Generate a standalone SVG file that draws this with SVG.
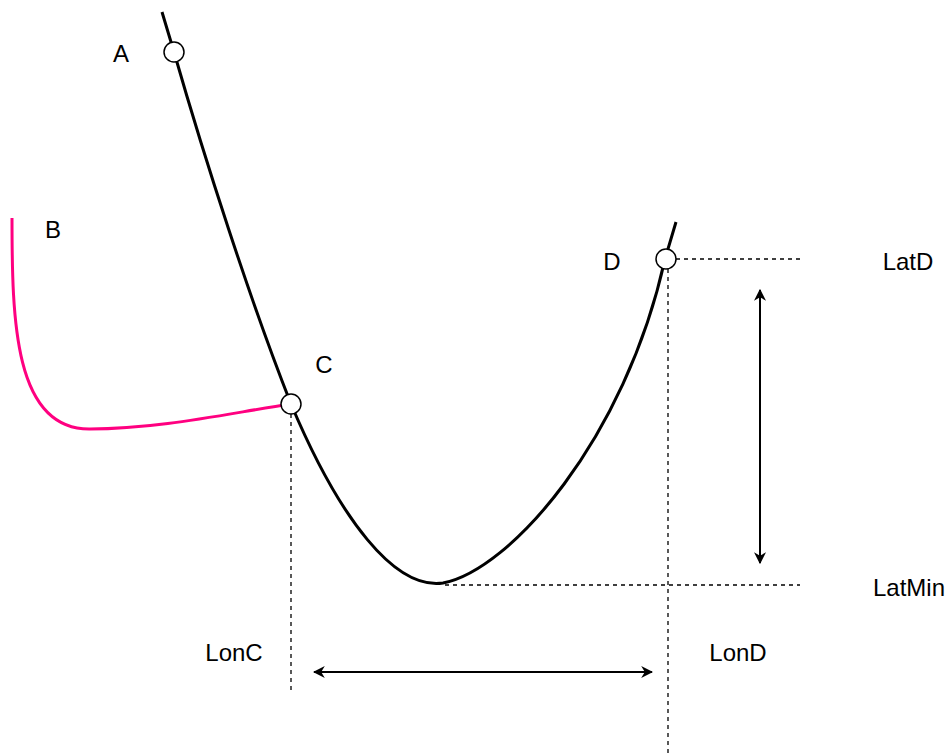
<svg xmlns="http://www.w3.org/2000/svg" width="950" height="756" viewBox="0 0 950 756">
<style>
text{font-family:"Liberation Sans",Arial,sans-serif;font-size:24px;fill:#000;text-anchor:middle;dominant-baseline:central}
.dash{stroke:#000;stroke-width:1.3;stroke-dasharray:4 4;fill:none}
.dim{stroke:#000;stroke-width:2;fill:none;marker-start:url(#ah);marker-end:url(#ah)}
.pt{fill:#fff;stroke:#000;stroke-width:1.5}
</style>
<defs>
<marker id="ah" viewBox="0 0 10 10" refX="9" refY="5" markerWidth="6" markerHeight="6" orient="auto-start-reverse" markerUnits="strokeWidth">
<path d="M0,0 L10,5 L0,10 L3,5 Z" fill="#000"/>
</marker>
</defs>
<rect width="950" height="756" fill="#fff"/>
<g id="connectors">
<path class="dash" d="M291,414 V692"/>
<path class="dash" d="M668,269 V756"/>
<path class="dash" d="M676,259 H800"/>
<path class="dash" d="M445,585 H800"/>
<path class="dim" d="M760,290 V563"/>
<path class="dim" d="M314,672 H652"/>
<path id="curve" d="M162,12 L174,52 C205,160 250,300 291,404 C340,520 395,590 443,583 C510,570 625,440 665,259 L676,222" fill="none" stroke="#000" stroke-width="3"/>
<path id="pink" d="M12,218 C12,320 14,430 90,429 C160,429 230,413 291,404" fill="none" stroke="#FF0080" stroke-width="3"/>
</g>
<g id="A"><circle class="pt" cx="174" cy="52" r="10"/><text x="121" y="53">A</text></g>
<g id="B"><text x="53" y="229">B</text></g>
<g id="C"><circle class="pt" cx="291" cy="404" r="10"/><text x="324" y="364">C</text></g>
<g id="D"><circle class="pt" cx="666" cy="259" r="10"/><text x="612" y="261">D</text></g>
<g id="LatD"><text x="908" y="261">LatD</text></g>
<g id="LatMin"><text x="909" y="587">LatMin</text></g>
<g id="LonC"><text x="234" y="652">LonC</text></g>
<g id="LonD"><text x="738" y="652">LonD</text></g>
</svg>
